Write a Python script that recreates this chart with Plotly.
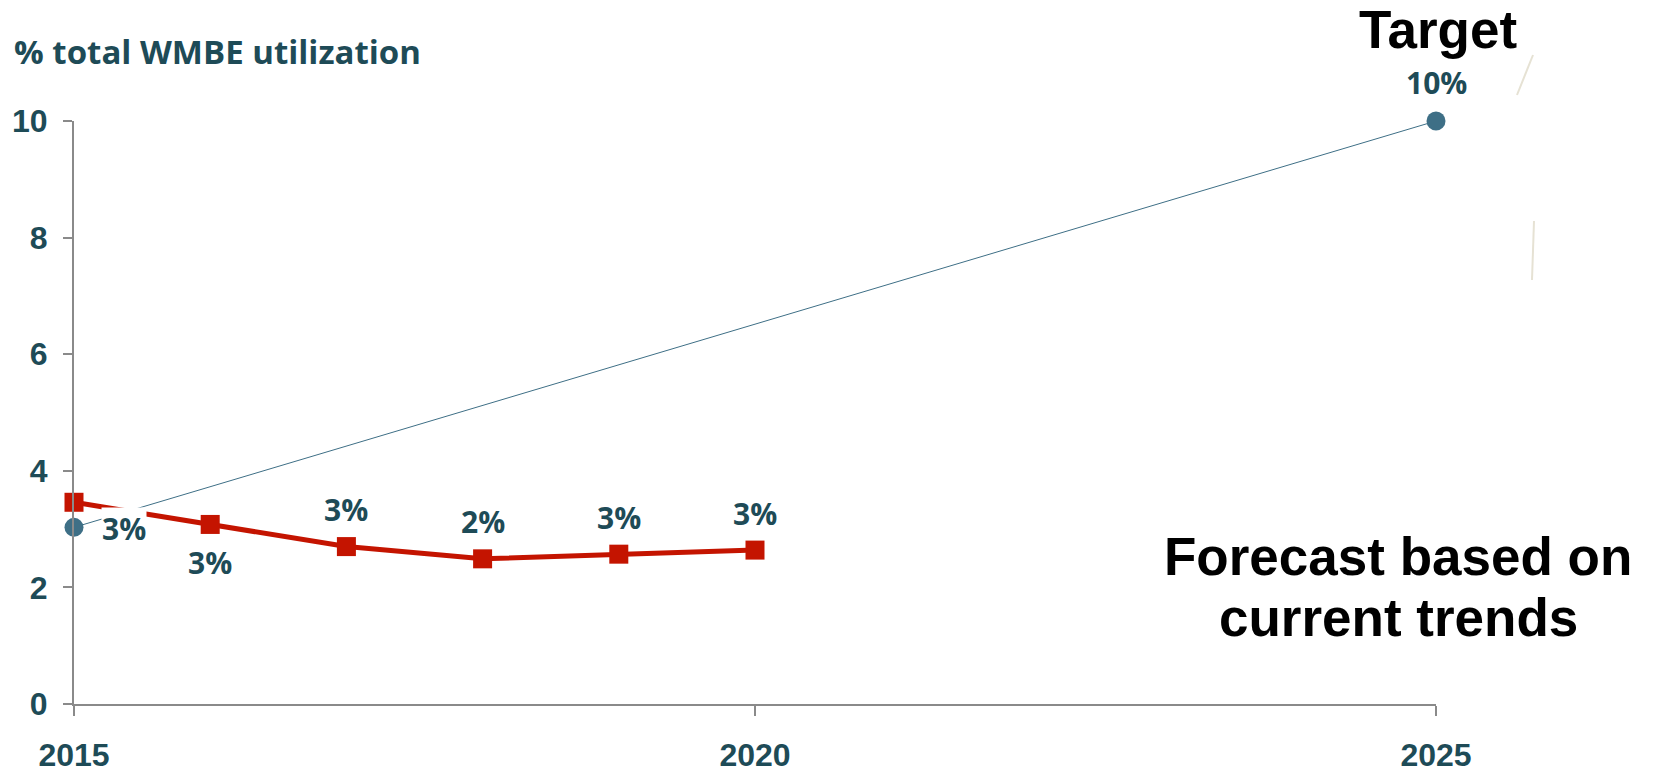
import plotly.graph_objects as go

# ---- data ----
years_trend = [2015, 2016, 2017, 2018, 2019, 2020]
trend_values = [3.46, 3.08, 2.70, 2.49, 2.57, 2.64]
trend_labels = ["", "3%", "3%", "2%", "3%", "3%"]

years_target = [2015, 2025]
target_values = [3.03, 10.0]
target_labels = ["3%", "10%"]

x_ticks = [2015, 2020, 2025]
y_ticks = [0, 2, 4, 6, 8, 10]

# ---- styles ----
TEAL = "#1e4b57"
BLUE = "#3e6f86"
RED = "#c41400"
GRAY = "#8a8a8a"
LABEL_FONT = dict(family="Open Sans, Lato, sans-serif", size=30, color=TEAL)

fig = go.Figure()

fig.add_trace(go.Scatter(
    x=years_target, y=target_values, mode="lines+markers",
    line=dict(color=BLUE, width=1),
    marker=dict(symbol="circle", size=19, color=BLUE),
    cliponaxis=False, showlegend=False, hoverinfo="skip"))

fig.add_trace(go.Scatter(
    x=years_trend, y=trend_values, mode="lines+markers",
    line=dict(color=RED, width=5),
    marker=dict(symbol="square", size=19, color=RED),
    cliponaxis=False, showlegend=False, hoverinfo="skip"))

annotations = []
# trend data labels: second point below, others above
for i, (xv, yv, lab) in enumerate(zip(years_trend, trend_values, trend_labels)):
    if not lab:
        continue
    annotations.append(dict(
        x=xv, y=yv, xref="x", yref="y", text=f"<b>{lab}</b>", showarrow=False,
        xanchor="center", yanchor="middle",
        yshift=(-38 if i == 1 else 37), font=LABEL_FONT))

# target labels
annotations.append(dict(
    x=years_target[0], y=target_values[0], xref="x", yref="y",
    text=f"<b>{target_labels[0]}</b>", showarrow=False, xshift=50, yshift=-1,
    xanchor="center", yanchor="middle",
    font=LABEL_FONT, bgcolor="white", borderpad=0))
annotations.append(dict(
    x=years_target[1], y=target_values[1], xref="x", yref="y",
    text=f"<b>{target_labels[1]}</b>", showarrow=False, yshift=39,
    xanchor="center", yanchor="middle", font=LABEL_FONT))

BIG = dict(family="Liberation Sans, Arial, sans-serif", size=53, color="black")
annotations.append(dict(
    x=2025, y=10, xref="x", yref="y", text="<b>Target</b>", showarrow=False,
    xanchor="center", yanchor="middle", xshift=2, yshift=92, font=BIG))
annotations.append(dict(
    x=2025, y=0.2535, xref="x", yref="paper", text="<b>Forecast based on</b>",
    showarrow=False, xanchor="center", yanchor="middle", xshift=-38, font=BIG))
annotations.append(dict(
    x=2025, y=0.1487, xref="x", yref="paper", text="<b>current trends</b>",
    showarrow=False, xanchor="center", yanchor="middle", xshift=-38, font=BIG))

# faint decorative strokes to the right of the target point
shapes = [
    dict(type="line", xref="paper", yref="paper", xsizemode="pixel", ysizemode="pixel",
         xanchor=1, yanchor=1, x0=97, y0=66, x1=81, y1=26,
         line=dict(color="#e6e2d4", width=2)),
    dict(type="line", xref="paper", yref="paper", xsizemode="pixel", ysizemode="pixel",
         xanchor=1, yanchor=1, x0=98, y0=-100, x1=96, y1=-159,
         line=dict(color="#e6e2d4", width=2)),
]

TICK_FONT = dict(family="Liberation Sans, Arial, sans-serif", size=32, color=TEAL)

fig.update_layout(
    width=1654, height=779,
    margin=dict(l=74, r=218, t=121, b=75),
    paper_bgcolor="white", plot_bgcolor="white",
    title=dict(text="<b>% total WMBE utilization</b>", x=14 / 1654, xanchor="left",
               xref="container", yref="container", y=1 - 52 / 779, yanchor="middle",
               font=dict(family="Open Sans, Lato, sans-serif", size=33, color=TEAL)),
    xaxis=dict(range=[2015, 2025], tickvals=x_ticks, ticktext=[f"<b>{t}</b>" for t in x_ticks],
               showgrid=False, zeroline=False, showline=True, linecolor=GRAY, linewidth=2,
               ticks="outside", ticklen=10, tickwidth=2, tickcolor=GRAY,
               tickfont=TICK_FONT, ticklabelstandoff=12, automargin=False),
    yaxis=dict(range=[0, 10], tickvals=y_ticks, ticktext=[f"<b>{t}</b>" for t in y_ticks],
               showgrid=False, zeroline=False, showline=True, linecolor=GRAY, linewidth=2,
               ticks="outside", ticklen=9, tickwidth=2, tickcolor=GRAY,
               tickfont=TICK_FONT, ticklabelstandoff=9, automargin=False),
    annotations=annotations,
    shapes=shapes,
)

fig.write_html("out.html")
